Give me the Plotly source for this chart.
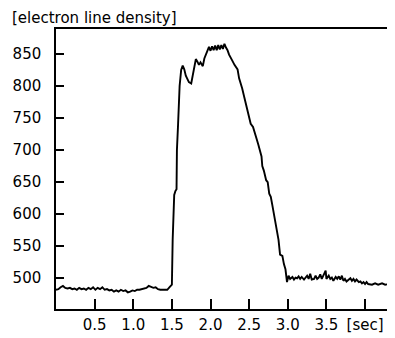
import plotly.graph_objects as go

# --- data ---
time_s = [
    0.00, 0.03, 0.06, 0.09, 0.12, 0.15, 0.18, 0.21, 0.24, 0.27,
    0.30, 0.33, 0.36, 0.39, 0.42, 0.45, 0.48, 0.51, 0.54, 0.57,
    0.60, 0.63, 0.66, 0.69, 0.72, 0.75, 0.78, 0.81, 0.84, 0.87,
    0.90, 0.93, 0.96, 0.99, 1.02, 1.05, 1.08, 1.11, 1.14, 1.17,
    1.20, 1.23, 1.26, 1.29, 1.32, 1.35, 1.38, 1.41, 1.44, 1.47,
    1.49,
    1.50, 1.51, 1.53, 1.545, 1.56, 1.565, 1.57, 1.575, 1.58, 1.60,
    1.62, 1.64, 1.66, 1.68, 1.70, 1.72, 1.75, 1.77, 1.79, 1.81,
    1.83, 1.85, 1.87, 1.88, 1.90, 1.92, 1.94, 1.96,
    1.98, 2.00, 2.02, 2.04, 2.06, 2.08, 2.10, 2.12, 2.14, 2.16,
    2.18, 2.20, 2.22, 2.24, 2.26, 2.28, 2.31, 2.33, 2.35, 2.37,
    2.39, 2.41, 2.43, 2.45, 2.47, 2.48, 2.50, 2.52, 2.55, 2.58,
    2.60, 2.62, 2.64, 2.66, 2.67, 2.69, 2.72, 2.74, 2.76, 2.78,
    2.80, 2.82, 2.84, 2.86, 2.88, 2.90, 2.93, 2.95, 2.97, 2.99,
    3.01, 3.03, 3.06, 3.08, 3.10, 3.12, 3.14, 3.16, 3.18, 3.21,
    3.23, 3.25, 3.27, 3.29, 3.31, 3.34, 3.36, 3.38, 3.40, 3.42,
    3.44, 3.46, 3.49, 3.50, 3.53, 3.55, 3.57, 3.59, 3.62, 3.64,
    3.66, 3.68, 3.70, 3.72, 3.74, 3.76, 3.79, 3.81, 3.83, 3.85,
    3.87, 3.89, 3.92, 3.94, 3.96, 3.98, 4.00, 4.02, 4.04, 4.09,
    4.13, 4.17, 4.22, 4.26, 4.31,
]

density = [
    482, 483, 486, 488, 485, 484, 485, 483, 484, 482,
    485, 483, 484, 482, 485, 483, 486, 482, 485, 483,
    486, 482, 483, 481, 482, 479, 481, 479, 482, 480,
    481, 478, 479, 481, 480, 482, 482, 483, 484, 485,
    488, 487, 485, 486, 483, 482, 482, 483, 482, 486,
    489,
    490, 560, 630, 636, 639, 700, 733, 737, 740, 800,
    825, 832, 826, 816, 810, 806, 804, 815, 828, 842,
    838, 833, 837, 835, 831, 843, 850, 856,
    861, 855, 862, 856, 863, 856, 864, 857, 864, 858,
    866, 860, 856, 849, 843, 840, 833, 830, 826, 812,
    805, 796, 786, 776, 764, 759, 750, 741, 736, 721,
    716, 708, 698, 690, 675, 668, 653, 650, 632, 627,
    614, 601, 586, 578, 560, 537, 535, 522, 514, 494,
    504, 499, 502, 498, 501, 500, 503, 499, 502, 498,
    501, 504, 499, 507, 498, 499, 504, 499, 501, 506,
    499, 504, 512, 499, 504, 499, 501, 496, 502, 499,
    503, 498, 504, 496, 499, 495, 499, 500, 496, 499,
    495, 498, 494, 495, 492, 494, 491, 494, 491, 490,
    492, 490, 492, 490, 491,
]

x_tick_vals = [0.5, 1.0, 1.5, 2.0, 2.5, 3.0, 3.5, 4.0]
x_tick_text = ["0.5", "1.0", "1.5", "2.0", "2.5", "3.0", "3.5", "[sec]"]
y_tick_vals = [500, 550, 600, 650, 700, 750, 800, 850]
y_title = "[electron line density]"

assert len(time_s) == len(density)

FONT = dict(family="DejaVu Sans", size=15, color="black")

fig = go.Figure()
fig.add_trace(go.Scatter(
    x=time_s, y=density, mode="lines",
    line=dict(color="black", width=1.9),
    hoverinfo="skip", showlegend=False,
))

# the page body has an 8px margin, so the figure is shrunk to fit the window
W, H = 387, 330
ML, MR, MT, MB = 48, 4, 21, 24
pw, ph = W - ML - MR, H - MT - MB

fig.update_layout(
    width=W, height=H,
    margin=dict(l=ML, r=MR, t=MT, b=MB, pad=0),
    paper_bgcolor="white", plot_bgcolor="white",
    font=FONT,
    xaxis=dict(
        range=[0, 4.31], tickvals=x_tick_vals, ticktext=x_tick_text,
        ticks="inside", ticklen=10, tickwidth=1.5, tickcolor="black",
        showline=True, linecolor="black", linewidth=1.5, mirror=True,
        showgrid=False, zeroline=False, tickfont=FONT,
        ticklabelstandoff=1,
    ),
    yaxis=dict(
        range=[452, 889], tickvals=y_tick_vals,
        ticks="inside", ticklen=8, tickwidth=1.5, tickcolor="black",
        showline=True, linecolor="black", linewidth=1.5, mirror=True,
        showgrid=False, zeroline=False, tickfont=FONT,
        ticklabelstandoff=10,
    ),
    annotations=[dict(
        text=y_title, xref="paper", yref="paper",
        x=(2 - ML) / pw, y=(H - MB - 9.5) / ph,
        xanchor="left", yanchor="middle", showarrow=False,
        font=FONT,
    )],
)

fig.write_html("out.html")
